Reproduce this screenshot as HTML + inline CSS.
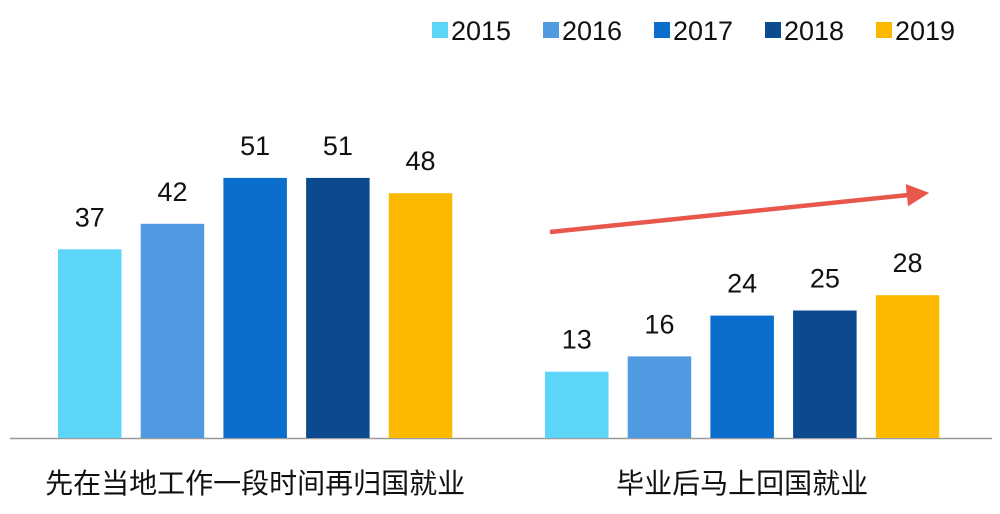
<!DOCTYPE html>
<html><head><meta charset="utf-8"><style>
body{margin:0;background:#fff;width:1000px;height:509px;overflow:hidden}
svg text{font-family:"Liberation Sans","Noto Sans CJK SC",sans-serif;fill:#111}
</style></head><body>
<svg id="chart" width="1000" height="509">
<defs><marker id="ah" markerWidth="5" markerHeight="5" refX="2.5" refY="2.5" orient="auto" markerUnits="strokeWidth"><path d="M0,0 L5,2.5 L0,5 z" fill="#e8574c"/></marker></defs>
<line x1="10" y1="438.5" x2="992" y2="438.5" stroke="#999" stroke-width="1.5"/>
<line x1="550" y1="232" x2="918" y2="194" stroke="#e8574c" stroke-width="4.5" marker-end="url(#ah)"/>
</svg>
<script>
const categories=["先在当地工作一段时间再归国就业","毕业后马上回国就业"];
const years=["2015","2016","2017","2018","2019"];
const values2015=[37,13];
const values2016=[42,16];
const values2017=[51,24];
const values2018=[51,25];
const values2019=[48,28];
const series=[values2015,values2016,values2017,values2018,values2019];
const colors=["#5dd5f8","#4f9ae0","#0a6ecc","#0b4a8e","#fbb900"];
const svg=document.getElementById('chart');
const NS="http://www.w3.org/2000/svg";
const baseY=438, scale=5.1;
const y=v=>baseY-v*scale;
const groupStart=[58,545], step=82.7, bw=63.5;
function mk(t,a){const e=document.createElementNS(NS,t);for(const k in a)e.setAttribute(k,a[k]);svg.appendChild(e);return e;}
categories.forEach((c,ci)=>{
  series.forEach((s,si)=>{
    const x=groupStart[ci]+si*step;
    const r=mk('rect',{x:x,y:y(s[ci]),width:bw,height:s[ci]*scale,fill:colors[si]});
    
    
    const t=mk('text',{x:x+bw/2,y:y(s[ci])-23,'text-anchor':'middle','font-size':'27'});
    t.textContent=s[ci];
    
    
  });
  const cx=groupStart[ci]+(4*step+bw)/2;
  const l=mk('text',{x:cx,y:493,'text-anchor':'middle','font-size':'28'});
  l.textContent=c;
  
  
});
years.forEach((yr,i)=>{
  const lx=432+i*111;
  const sq=mk('rect',{x:lx,y:22,width:16,height:16,fill:colors[i]});
  
  
  const t=mk('text',{x:lx+19,y:40,'font-size':'27'});
  t.textContent=yr;
  
  
});
</script>
</body></html>
